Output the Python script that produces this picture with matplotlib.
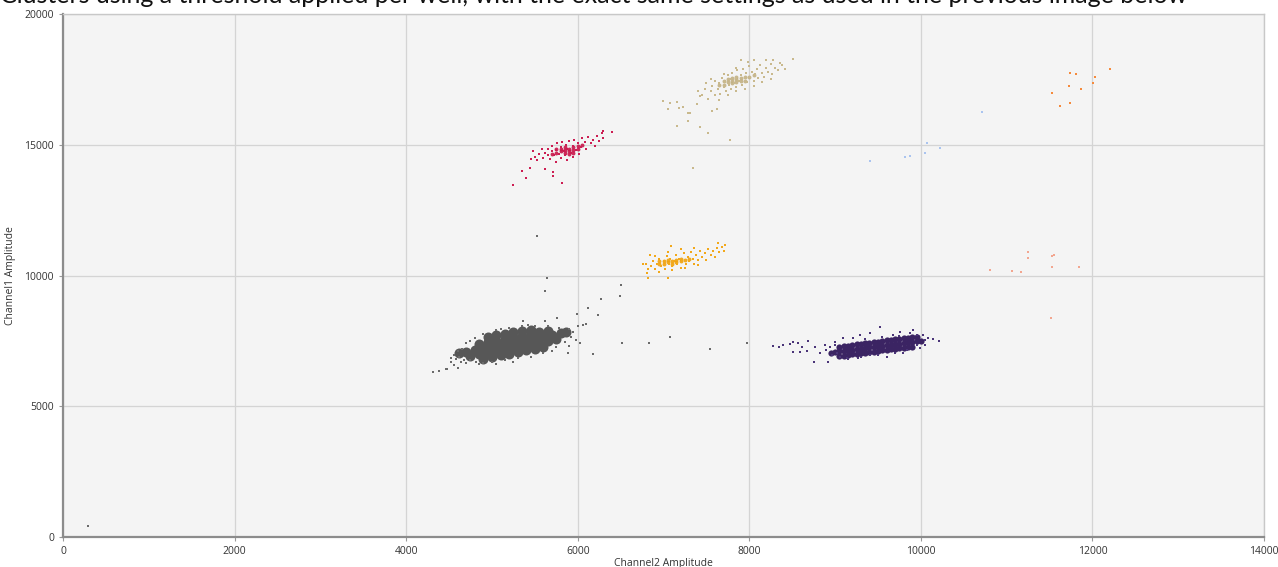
import matplotlib
matplotlib.use("Agg")
import matplotlib.pyplot as plt

# ---------------- data (Channel2 amplitude, Channel1 amplitude) ----------------
gray_core = [
    # central row
    (4620, 7030), (4700, 7083), (4800, 7148), (4900, 7213), (5000, 7278), (5100, 7343),
    (5200, 7408), (5300, 7473), (5400, 7538), (5500, 7603), (5600, 7668), (5700, 7733),
    (5800, 7798), (5860, 7840),
    # row below
    (4750, 6915), (4850, 6980), (4950, 7045), (5050, 7110), (5150, 7175), (5250, 7240),
    (5350, 7305), (5450, 7370), (5550, 7435), (5650, 7500), (5750, 7565),
    # row above
    (4850, 7380), (4950, 7445), (5050, 7510), (5150, 7575), (5250, 7640), (5350, 7705),
    (5450, 7770), (5550, 7835), (5650, 7880),
    # outer rows
    (4900, 6813), (5000, 6878), (5100, 6943), (5200, 7008), (5300, 7073), (5400, 7138),
    (5500, 7203), (5600, 7268),
    (4950, 7650), (5050, 7715), (5150, 7780), (5250, 7840), (5350, 7873), (5450, 7900)]
gray_pts = [(4380, 6330), (4480, 6420), (4560, 6560), (4600, 6470), (4520, 6700), (4640, 6690),
            (4580, 6800), (4620, 6900), (4680, 6760), (4650, 7200), (4750, 6750), (4820, 6700),
            (4900, 6650), (5000, 6700), (5150, 6750), (5300, 6850), (5450, 6900), (5600, 7050),
            (5750, 7250), (5850, 7450), (5920, 7650), (5950, 7850), (5900, 7950), (5780, 8000),
            (5650, 8050), (5500, 8050), (5350, 8050), (5200, 8000), (5050, 7900), (4900, 7750),
            (4800, 7600), (4700, 7400), (4600, 7100), (4560, 6950), (6000, 8050), (6100, 8150),
            (5618, 9407), (6271, 9101), (6493, 9216), (6120, 8757), (6236, 8489), (6061, 8107),
            (6026, 7418), (6178, 6998), (6516, 7418), (5886, 7036), (4313, 6310), (4464, 6424),
            (4523, 6845), (5362, 8260), (5618, 8260), (5758, 8375), (5991, 8528), (5525, 11510),
            (5642, 9904), (6830, 7418), (7075, 7648), (7542, 7189), (7973, 7418), (6504, 9637),
            (4700, 6650), (4850, 6600), (5050, 6620), (5250, 6700), (5700, 7100), (5900, 7300),
            (5980, 7550), (5420, 8120), (5100, 7950), (4750, 7500), (291, 420)]

purple_core = [
    (8950, 7055), (9000, 7077), (9050, 7098), (9100, 7120), (9150, 7141), (9200, 7163),
    (9250, 7184), (9300, 7206), (9350, 7227), (9400, 7249), (9450, 7270), (9500, 7292),
    (9550, 7313), (9600, 7335), (9650, 7356), (9700, 7378), (9750, 7399), (9800, 7421),
    (9850, 7442), (9900, 7464), (9950, 7485), (10000, 7507),
    (9050, 6918), (9100, 6940), (9150, 6961), (9200, 6983), (9250, 7004), (9300, 7026),
    (9350, 7047), (9400, 7069), (9450, 7090), (9500, 7112), (9550, 7133), (9600, 7155),
    (9650, 7176), (9700, 7198), (9750, 7219), (9800, 7241), (9850, 7262), (9900, 7284),
    (9050, 7278), (9100, 7300), (9150, 7321), (9200, 7343), (9250, 7364), (9300, 7386),
    (9350, 7407), (9400, 7429), (9450, 7450), (9500, 7472), (9550, 7493), (9600, 7515),
    (9650, 7536), (9700, 7558), (9750, 7579), (9800, 7601), (9850, 7622), (9900, 7644),
    (9950, 7665)]
purple_pts = [(8272, 7304), (8346, 7266), (8393, 7342), (8474, 7380), (8509, 7457), (8567, 7419),
              (8614, 7266), (8509, 7075), (8591, 7075), (8672, 7113), (8684, 7495), (8766, 7266),
              (8824, 7036), (8754, 6692), (8917, 6692), (8882, 7342), (8941, 7266), (8999, 7457),
              (8964, 6960), (9057, 6883), (9139, 6845), (9267, 6845), (9092, 7610), (9523, 8031),
              (9290, 7725), (9675, 7725), (9908, 7916), (9955, 7725), (10024, 7725), (10048, 7533),
              (10048, 7342), (9990, 7228), (10141, 7572), (10211, 7495), (9791, 7036), (9605, 6883),
              (9407, 6960), (9873, 7801), (9757, 7839), (9407, 7801), (9209, 7610), (9022, 7036),
              (9838, 7151), (8900, 7150), (9000, 7350), (9150, 6820), (9350, 7560), (9550, 7650),
              (9750, 7700), (9950, 7350), (10080, 7620), (9700, 7050), (9500, 6960), (9300, 6900)]

red_core = [(5750, 14700), (5800, 14750), (5850, 14800), (5900, 14850), (5950, 14900),
            (5800, 14850), (5850, 14700), (5900, 14750), (5950, 14800), (6000, 14950),
            (5700, 14650), (5850, 14900), (5950, 14700), (6000, 14850), (5750, 14850),
            (5900, 14650), (6050, 15000)]
red_pts = [(5600, 14500), (5620, 14700), (5650, 14850), (5650, 14600), (5680, 14450), (5700, 14750),
           (5700, 14950), (5720, 14600), (5750, 14350), (5750, 14800), (5760, 15050), (5780, 14650),
           (5800, 14500), (5800, 14900), (5820, 15100), (5840, 14750), (5850, 14600), (5860, 15000),
           (5880, 14400), (5880, 14850), (5900, 15150), (5920, 14700), (5940, 14950), (5950, 14550),
           (5960, 15200), (5980, 14800), (6000, 15050), (6020, 14650), (6040, 14900), (6050, 15250),
           (6080, 15100), (6100, 14850), (6120, 15300), (6150, 15050), (6180, 15200), (6200, 14950),
           (6230, 15350), (6250, 15150), (6280, 15450), (6300, 15250), (5550, 14650), (5520, 14400),
           (5580, 14850), (5500, 14550), (5450, 14450), (5480, 14750),
           (5245, 13461), (5350, 13996), (5397, 13728), (5817, 13537), (5712, 13958), (5712, 13805),
           (6399, 15488), (6294, 15526), (5444, 14111), (5618, 14073)]

tan_core = [(7700, 17300), (7750, 17400), (7800, 17450), (7850, 17500), (7900, 17550), (7950, 17600),
            (7800, 17350), (7850, 17400), (7750, 17500), (7900, 17450), (8000, 17600), (7650, 17300),
            (7950, 17450), (8050, 17650), (7850, 17600), (7700, 17450), (7800, 17550)]
tan_pts = [(7450, 16900), (7480, 17150), (7500, 17350), (7520, 16750), (7550, 17050), (7570, 17250),
           (7600, 16900), (7600, 17450), (7630, 17150), (7650, 17350), (7660, 16950), (7680, 17550),
           (7700, 17200), (7720, 17400), (7730, 17050), (7750, 17650), (7760, 17300), (7780, 17500),
           (7790, 17150), (7800, 17750), (7820, 17350), (7840, 17550), (7850, 17200), (7860, 17850),
           (7880, 17450), (7900, 17650), (7910, 17300), (7930, 17900), (7950, 17550), (7960, 17750),
           (7970, 17400), (8000, 18000), (8010, 17600), (8030, 17800), (8050, 17450), (8070, 17700),
           (8090, 17900), (8100, 17550), (8120, 18050), (8150, 17750), (8170, 17600), (8190, 17950),
           (8220, 17800), (8250, 18100), (8270, 17700), (8300, 17950), (8330, 17850), (8380, 18050),
           (8420, 17900), (7400, 17050), (7420, 16850), (7550, 17500), (7700, 17700), (7850, 17950),
           (7980, 18150), (8050, 18250), (7900, 18250), (8200, 18250), (7650, 16700), (7750, 16900),
           (7850, 17050), (7950, 17150), (8050, 17250), (8150, 17400), (8250, 17500),
           (6994, 16673), (7052, 16367), (7157, 15717), (7285, 15908), (7425, 15679),
           (7518, 15449), (7308, 16214), (7180, 16405), (7390, 16558), (7565, 16291), (7623, 16367),
           (7075, 16597), (7157, 16635), (7227, 16444), (7285, 16214), (8509, 18279), (8358, 18126),
           (8276, 18241), (7775, 15182), (7343, 14111)]

amber_core = [(7000, 10450), (7050, 10500), (7100, 10550), (7150, 10600), (7200, 10550),
              (7100, 10450), (7000, 10550), (7250, 10600), (6950, 10450), (7150, 10500),
              (7200, 10650), (7300, 10650), (7050, 10600), (6950, 10550)]
amber_pts = [(6850, 10350), (6880, 10550), (6900, 10250), (6920, 10450), (6950, 10650), (6970, 10350),
             (7000, 10550), (7020, 10250), (7040, 10750), (7060, 10450), (7080, 10650), (7100, 10350),
             (7120, 10550), (7140, 10800), (7160, 10450), (7180, 10650), (7200, 10300), (7220, 10550),
             (7240, 10850), (7260, 10450), (7280, 10700), (7300, 10550), (7320, 10900), (7340, 10650),
             (7360, 10450), (7380, 10800), (7400, 10600), (7420, 10950), (7450, 10700), (7480, 10850),
             (7500, 10600), (7520, 11000), (7550, 10800), (7580, 10950), (7600, 10700), (7620, 11050),
             (7650, 10900), (7680, 11100), (7700, 10950), (7720, 11150), (6800, 10450), (6820, 10250),
             (6950, 10150), (7100, 10200), (7250, 10300), (7400, 10400), (6900, 10750), (7050, 10900),
             (7200, 11000), (7350, 11050),
             (6807, 10096), (6819, 9904), (7052, 9904), (7087, 11128), (7635, 11243),
             (6761, 10440), (6842, 10784)]

orange_pts = [(11738, 17744), (11808, 17705), (12030, 17591), (12006, 17361), (12204, 17897),
              (11726, 17247), (11528, 16979), (11866, 17132), (11738, 16597), (11621, 16482)]
blue_pts = [(9407, 14379), (9815, 14532), (9870, 14560), (10048, 14685), (10071, 15067),
            (10223, 14876), (10712, 16252)]
salmon_pts = [(11248, 10899), (11248, 10669), (11062, 10172), (11167, 10134), (11528, 10746),
              (11551, 10784), (11528, 10325), (11843, 10325), (11516, 8375), (10805, 10210)]

x_ticks = [0, 2000, 4000, 6000, 8000, 10000, 12000, 14000]
y_ticks = [0, 5000, 10000, 15000, 20000]
x_label = "Channel2 Amplitude"
y_label = "Channel1 Amplitude"
header = ("Clusters using a threshold applied per well, with the exact same settings "
          "as used in the previous image below")

# ---------------- figure ----------------
fig = plt.figure(figsize=(12.78, 5.67), dpi=100)
ax = fig.add_axes([63 / 1278, 1 - 537 / 567, (1264 - 63) / 1278, (537 - 14) / 567])
ax.set_facecolor("#f4f4f4")


def sc(pts, color, s, marker="s", alpha=1.0, z=3):
    xs = [p[0] for p in pts]
    ys = [p[1] for p in pts]
    ax.scatter(xs, ys, s=s, c=color, marker=marker, linewidths=0, alpha=alpha, zorder=z)


# dense cores
sc(gray_core, "#575757", 52, marker="o", z=2)
sc(purple_core, "#3b2463", 20, marker="o", z=2)
sc(red_core, "#c8164a", 8, marker="o", alpha=0.9, z=2)
sc(tan_core, "#c2b184", 8, marker="o", alpha=0.9, z=2)
sc(amber_core, "#f0a20c", 8, marker="o", alpha=0.9, z=2)

# individual droplets
sc(gray_pts, "#6a6a6a", 3)
sc(purple_pts, "#4a3478", 3)
sc(red_pts, "#cc1d52", 3.5)
sc(tan_pts, "#c9b98d", 3.5)
sc(amber_pts, "#f2a81a", 3.5)
sc(orange_pts, "#f58a3c", 3.5)
sc(blue_pts, "#aac4ef", 3)
sc(salmon_pts, "#f2a690", 3)

ax.set_xlim(0, 14000)
ax.set_ylim(0, 20000)
ax.set_xticks(x_ticks)
ax.set_yticks(y_ticks)
ax.grid(True, color="#d4d4d4", linewidth=0.9, zorder=0)
ax.set_axisbelow(True)

for side in ["left", "bottom"]:
    ax.spines[side].set_color("#8c8c8c")
    ax.spines[side].set_linewidth(1.6)
for side in ["top", "right"]:
    ax.spines[side].set_color("#c8c8c8")
    ax.spines[side].set_linewidth(1.0)

ax.tick_params(axis="both", labelsize=7.5, colors="#9a9a9a", labelcolor="#333333",
               length=3, width=0.8)
for lbl in ax.get_xticklabels() + ax.get_yticklabels():
    lbl.set_family("Open Sans")

ax.set_xlabel(x_label, fontsize=7.5, family="Open Sans", color="#333333", labelpad=1)
ax.set_ylabel(y_label, fontsize=7.5, family="Open Sans", color="#333333", labelpad=6)

# header sentence sits above the canvas; only its lower edge shows, as in the reference
fig.text(0.0, 1 - 3 / 567, header, fontsize=18, family="Lato", color="#111111",
         va="baseline", ha="left")

fig.savefig("out.png", dpi=100)
